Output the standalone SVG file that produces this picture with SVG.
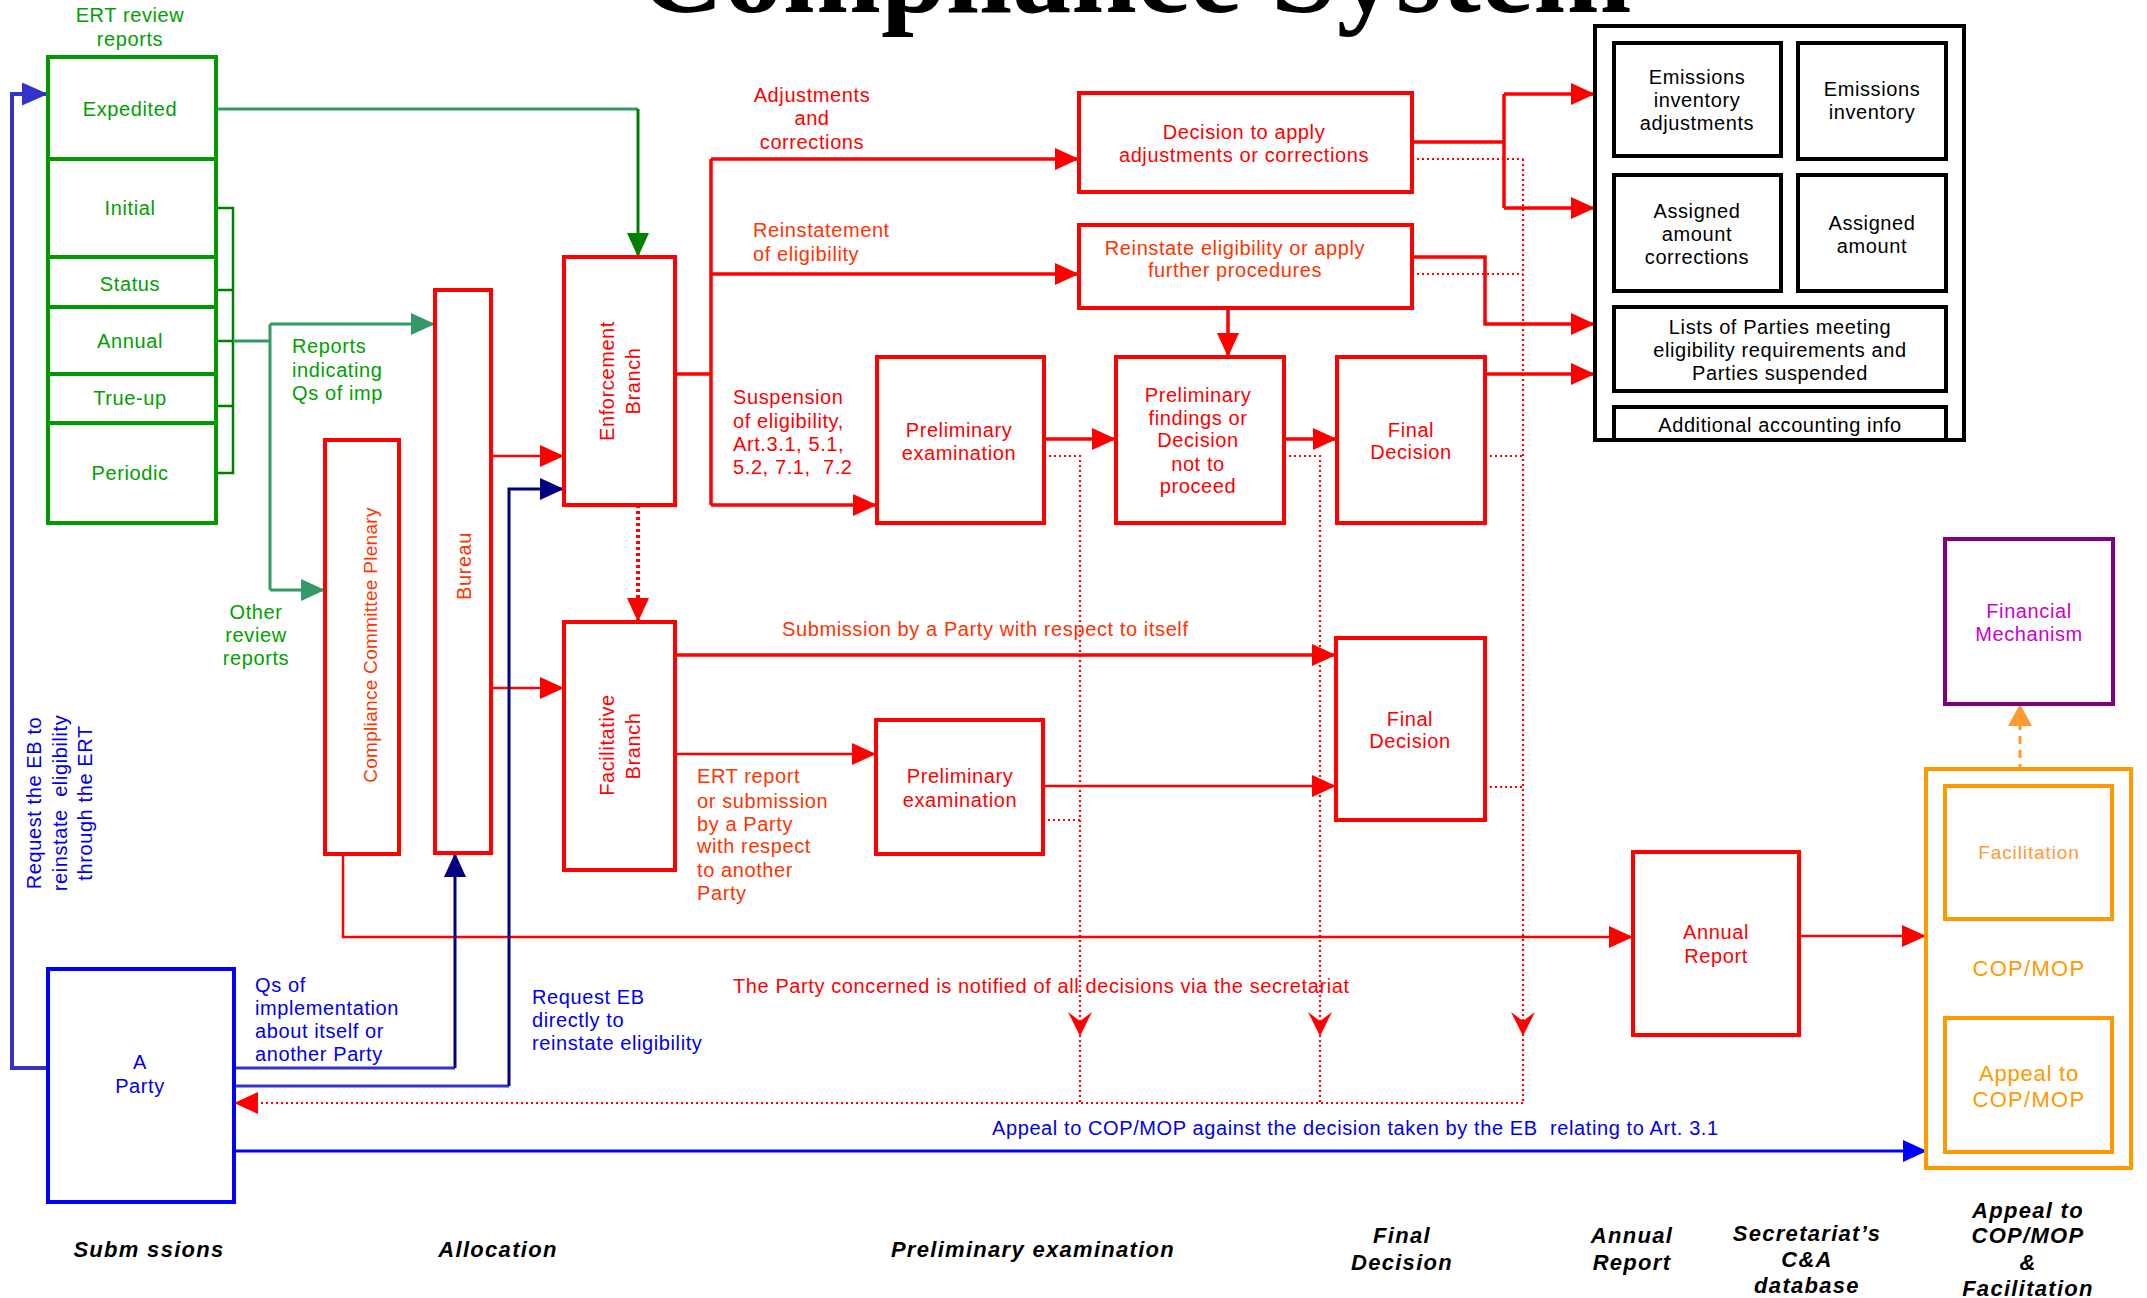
<svg xmlns="http://www.w3.org/2000/svg" width="2147" height="1298" viewBox="0 0 2147 1298">
<defs>
<style>
text{font-family:"Liberation Sans",Arial,sans-serif;font-size:20px;letter-spacing:0.6px}
.c{text-anchor:middle}
.r{fill:#ff0000}.o{fill:#ff3300}.g{fill:#00a000}.b{fill:#0000ee}.k{fill:#000}.m{fill:#cc00cc}.y{fill:#ff9900}.yl{fill:#ff9933}
.ax{font-weight:bold;font-style:italic;font-size:22px;letter-spacing:1.3px;fill:#000;text-anchor:middle}
.title{font-family:"Liberation Serif","Times New Roman",serif;font-weight:bold;font-size:118px;letter-spacing:0;text-anchor:middle;fill:#000}
.bx{fill:#fff;stroke-width:4}
.rb{stroke:#ff0000}.gb{stroke:#009900}.kb{stroke:#000}.bb{stroke:#0000ff}.pb{stroke:#800080}.yb{stroke:#ff9900}
.ln{fill:none}
.lr{stroke:#ff0000;stroke-width:3.5}
.lr2{stroke:#ff0000;stroke-width:2.5}
.dot{stroke:#ff0000;stroke-width:2.2;stroke-dasharray:2,3}
</style>
<marker id="aR" markerUnits="userSpaceOnUse" markerWidth="24" markerHeight="22" refX="24" refY="11" orient="auto" viewBox="0 0 24 22"><path d="M0,0L24,11L0,22z" fill="#ff0000"/></marker>
<marker id="aG" markerUnits="userSpaceOnUse" markerWidth="24" markerHeight="22" refX="24" refY="11" orient="auto" viewBox="0 0 24 22"><path d="M0,0L24,11L0,22z" fill="#008000"/></marker>
<marker id="aS" markerUnits="userSpaceOnUse" markerWidth="24" markerHeight="22" refX="24" refY="11" orient="auto" viewBox="0 0 24 22"><path d="M0,0L24,11L0,22z" fill="#339966"/></marker>
<marker id="aN" markerUnits="userSpaceOnUse" markerWidth="24" markerHeight="22" refX="24" refY="11" orient="auto" viewBox="0 0 24 22"><path d="M0,0L24,11L0,22z" fill="#000080"/></marker>
<marker id="aB" markerUnits="userSpaceOnUse" markerWidth="24" markerHeight="22" refX="24" refY="11" orient="auto" viewBox="0 0 24 22"><path d="M0,0L24,11L0,22z" fill="#0000ff"/></marker>
<marker id="aV" markerUnits="userSpaceOnUse" markerWidth="26" markerHeight="23" refX="26" refY="11.5" orient="auto" viewBox="0 0 26 23"><path d="M0,0L26,11.5L0,23z" fill="#3333cc"/></marker>
<marker id="aO" markerUnits="userSpaceOnUse" markerWidth="22" markerHeight="24" refX="22" refY="12" orient="auto" viewBox="0 0 22 24"><path d="M0,0L22,12L0,24z" fill="#ff9933"/></marker>
</defs>
<rect width="2147" height="1298" fill="#fff"/>
<text class="title" x="1135" y="12">Compliance System</text>

<g id="connectors" class="ln">
<path d="M216,109H638" stroke="#339966" stroke-width="3"/>
<path d="M638,109V257" stroke="#008000" stroke-width="3" marker-end="url(#aG)"/>
<path d="M216,208H233V473H216M216,290H233M216,341H233M216,406H233" stroke="#008000" stroke-width="2.5"/>
<path d="M233,341H270M270,324V590" stroke="#339966" stroke-width="3"/>
<path d="M270,324H435" stroke="#339966" stroke-width="3" marker-end="url(#aS)"/>
<path d="M270,590H325" stroke="#339966" stroke-width="3" marker-end="url(#aS)"/>

<path class="lr2" d="M491,456H564" marker-end="url(#aR)"/>
<path class="lr2" d="M491,688H564" marker-end="url(#aR)"/>
<path class="lr" d="M675,374H711M711,159V505"/>
<path class="lr" d="M711,159H1079" marker-end="url(#aR)"/>
<path class="lr" d="M711,274H1079" marker-end="url(#aR)"/>
<path class="lr" d="M711,505H877" marker-end="url(#aR)"/>
<path class="lr" d="M1228,308V357" marker-end="url(#aR)"/>
<path class="lr" d="M1044,439H1116" marker-end="url(#aR)"/>
<path class="lr" d="M1284,439H1337" marker-end="url(#aR)"/>
<path class="lr" d="M1412,142H1504M1504,94V208"/>
<path class="lr" d="M1504,94H1595" marker-end="url(#aR)"/>
<path class="lr" d="M1504,208H1595" marker-end="url(#aR)"/>
<path class="lr" d="M1412,257H1485V324H1595" marker-end="url(#aR)"/>
<path class="lr" d="M1485,374H1595" marker-end="url(#aR)"/>
<path class="lr" d="M675,655H1336" marker-end="url(#aR)"/>
<path class="lr2" d="M675,754H876" marker-end="url(#aR)"/>
<path class="lr2" d="M1043,786H1336" marker-end="url(#aR)"/>
<path class="lr2" d="M343,854V937H1633" marker-end="url(#aR)"/>
<path class="lr2" d="M1799,936H1926" marker-end="url(#aR)"/>

<path class="dot" d="M1412,159H1523M1412,274H1523M1523,159V1103M1044,456H1080V1103M1284,456H1320V1103M1485,456H1523M1043,820H1080M1485,787H1523"/>
<path class="dot" d="M1523,1103H234" marker-end="url(#aR)"/>
<path d="M638,505V622" stroke="#ff0000" stroke-width="4" stroke-dasharray="3,3" marker-end="url(#aR)"/>
<path d="M1080,1036L1068,1012L1080,1021L1092,1012Z M1320,1036L1308,1012L1320,1021L1332,1012Z M1523,1036L1511,1012L1523,1021L1535,1012Z" fill="#ff0000"/>

<path d="M48,1068H12V94H48" stroke="#3333cc" stroke-width="4" marker-end="url(#aV)"/>
<path d="M234,1068H455" stroke="#3333cc" stroke-width="3"/>
<path d="M455,1068V853" stroke="#000080" stroke-width="3" marker-end="url(#aN)"/>
<path d="M234,1086H509" stroke="#3333cc" stroke-width="3"/>
<path d="M509,1086V489H564" stroke="#000080" stroke-width="3" marker-end="url(#aN)"/>
<path d="M234,1151H1927" stroke="#0000ff" stroke-width="3" marker-end="url(#aB)"/>
<path d="M2020,786V704" stroke="#ff9933" stroke-width="3" stroke-dasharray="8,6" marker-end="url(#aO)"/>
</g>

<g id="ert-reports">
<text class="g c" x="130" y="22">ERT review</text>
<text class="g c" x="130" y="46">reports</text>
</g>
<g id="expedited"><rect class="bx gb" x="48" y="57" width="168" height="102" stroke-width="5"/><text class="g c" x="130" y="116">Expedited</text></g>
<g id="initial"><rect class="bx gb" x="48" y="159" width="168" height="98"/><text class="g c" x="130" y="215">Initial</text></g>
<g id="status"><rect class="bx gb" x="48" y="257" width="168" height="50"/><text class="g c" x="130" y="291">Status</text></g>
<g id="annual"><rect class="bx gb" x="48" y="307" width="168" height="67"/><text class="g c" x="130" y="348">Annual</text></g>
<g id="trueup"><rect class="bx gb" x="48" y="374" width="168" height="49"/><text class="g c" x="130" y="405">True-up</text></g>
<g id="periodic"><rect class="bx gb" x="48" y="423" width="168" height="100"/><text class="g c" x="130" y="480">Periodic</text></g>

<g id="labels-green">
<text class="g" x="292" y="353">Reports</text>
<text class="g" x="292" y="377">indicating</text>
<text class="g" x="292" y="400">Qs of imp</text>
<text class="g c" x="256" y="619">Other</text>
<text class="g c" x="256" y="642">review</text>
<text class="g c" x="256" y="665">reports</text>
</g>

<g id="ccp"><rect class="bx rb" x="325" y="440" width="74" height="414"/><text class="o c" transform="translate(377,645) rotate(-90)" style="font-size:19px;letter-spacing:0.3px">Compliance Committee Plenary</text></g>
<g id="bureau"><rect class="bx rb" x="435" y="290" width="56" height="563"/><text class="o c" transform="translate(471,566) rotate(-90)">Bureau</text></g>
<g id="enforcement"><rect class="bx rb" x="564" y="257" width="111" height="248"/>
<text class="r c" transform="translate(614,381) rotate(-90)">Enforcement</text>
<text class="r c" transform="translate(640,381) rotate(-90)">Branch</text></g>
<g id="facilitative"><rect class="bx rb" x="564" y="622" width="111" height="248"/>
<text class="r c" transform="translate(614,745) rotate(-90)">Facilitative</text>
<text class="r c" transform="translate(640,746) rotate(-90)">Branch</text></g>

<g id="labels-red">
<text class="r c" x="812" y="102">Adjustments</text>
<text class="r c" x="812" y="125">and</text>
<text class="r c" x="812" y="149">corrections</text>
<text class="o" x="753" y="237">Reinstatement</text>
<text class="o" x="753" y="261">of eligibility</text>
<text class="r" x="733" y="404">Suspension</text>
<text class="r" x="733" y="428">of eligibility,</text>
<text class="r" x="733" y="451">Art.3.1, 5.1,</text>
<text class="r" x="733" y="474" xml:space="preserve">5.2, 7.1,  7.2</text>
<text class="o" x="782" y="636">Submission by a Party with respect to itself</text>
<text class="o" x="697" y="783">ERT report</text>
<text class="o" x="697" y="808">or submission</text>
<text class="o" x="697" y="831">by a Party</text>
<text class="o" x="697" y="853">with respect</text>
<text class="o" x="697" y="877">to another</text>
<text class="o" x="697" y="900">Party</text>
<text class="r" x="733" y="993">The Party concerned is notified of all decisions via the secretariat</text>
</g>

<g id="decision-apply"><rect class="bx rb" x="1079" y="93" width="333" height="99"/>
<text class="r c" x="1244" y="139">Decision to apply</text>
<text class="r c" x="1244" y="162">adjustments or corrections</text></g>
<g id="reinstate"><rect class="bx rb" x="1079" y="225" width="333" height="83"/>
<text class="o c" x="1235" y="255">Reinstate eligibility or apply</text>
<text class="o c" x="1235" y="277">further procedures</text></g>
<g id="prelim-eb"><rect class="bx rb" x="877" y="357" width="167" height="166"/>
<text class="r c" x="959" y="437">Preliminary</text>
<text class="r c" x="959" y="460">examination</text></g>
<g id="findings"><rect class="bx rb" x="1116" y="357" width="168" height="166"/>
<text class="r c" x="1198" y="402">Preliminary</text>
<text class="r c" x="1198" y="425">findings or</text>
<text class="r c" x="1198" y="447">Decision</text>
<text class="r c" x="1198" y="471">not to</text>
<text class="r c" x="1198" y="493">proceed</text></g>
<g id="final-eb"><rect class="bx rb" x="1337" y="357" width="148" height="166"/>
<text class="r c" x="1411" y="437">Final</text>
<text class="r c" x="1411" y="459">Decision</text></g>
<g id="prelim-fb"><rect class="bx rb" x="876" y="720" width="167" height="134"/>
<text class="r c" x="960" y="783">Preliminary</text>
<text class="r c" x="960" y="807">examination</text></g>
<g id="final-fb"><rect class="bx rb" x="1336" y="638" width="149" height="182"/>
<text class="r c" x="1410" y="726">Final</text>
<text class="r c" x="1410" y="748">Decision</text></g>
<g id="annual-report"><rect class="bx rb" x="1633" y="852" width="166" height="183"/>
<text class="r c" x="1716" y="939">Annual</text>
<text class="r c" x="1716" y="963">Report</text></g>

<g id="database">
<rect x="1595" y="26" width="369" height="414" fill="#fff" stroke="#000" stroke-width="4"/>
<rect class="bx kb" x="1614" y="43" width="167" height="113"/>
<text class="k c" x="1697" y="84">Emissions</text>
<text class="k c" x="1697" y="107">inventory</text>
<text class="k c" x="1697" y="130">adjustments</text>
<rect class="bx kb" x="1798" y="43" width="148" height="116"/>
<text class="k c" x="1872" y="96">Emissions</text>
<text class="k c" x="1872" y="119">inventory</text>
<rect class="bx kb" x="1614" y="175" width="167" height="116"/>
<text class="k c" x="1697" y="218">Assigned</text>
<text class="k c" x="1697" y="241">amount</text>
<text class="k c" x="1697" y="264">corrections</text>
<rect class="bx kb" x="1798" y="175" width="148" height="116"/>
<text class="k c" x="1872" y="230">Assigned</text>
<text class="k c" x="1872" y="253">amount</text>
<rect class="bx kb" x="1614" y="307" width="332" height="84"/>
<text class="k c" x="1780" y="334">Lists of Parties meeting</text>
<text class="k c" x="1780" y="357">eligibility requirements and</text>
<text class="k c" x="1780" y="380">Parties suspended</text>
<rect class="bx kb" x="1614" y="407" width="332" height="33"/>
<text class="k c" x="1780" y="432">Additional accounting info</text>
</g>

<g id="financial-mechanism"><rect class="bx pb" x="1945" y="539" width="168" height="165"/>
<text class="m c" x="2029" y="618">Financial</text>
<text class="m c" x="2029" y="641">Mechanism</text></g>
<g id="copmop"><rect class="bx yb" x="1926" y="769" width="205" height="399"/>
<text class="y c" x="2029" y="976" style="font-size:22px;letter-spacing:1.3px">COP/MOP</text></g>
<g id="facilitation"><rect class="bx yb" x="1945" y="786" width="167" height="133"/>
<text class="yl c" x="2029" y="859" style="font-size:19px;letter-spacing:0.9px">Facilitation</text></g>
<g id="appeal"><rect class="bx yb" x="1945" y="1018" width="167" height="134"/>
<text class="y c" x="2029" y="1081" style="font-size:22px;letter-spacing:0.8px">Appeal to</text>
<text class="y c" x="2029" y="1107" style="font-size:22px;letter-spacing:1.3px">COP/MOP</text></g>

<g id="party"><rect class="bx bb" x="48" y="969" width="186" height="233"/>
<text class="b c" x="140" y="1069">A</text>
<text class="b c" x="140" y="1093">Party</text></g>

<g id="labels-blue">
<text class="b c" transform="translate(41,803) rotate(-90)">Request the EB to</text>
<text class="b c" transform="translate(67,803) rotate(-90)" xml:space="preserve">reinstate  eligibility</text>
<text class="b c" transform="translate(92,803) rotate(-90)">through the ERT</text>
<text class="b" x="255" y="992">Qs of</text>
<text class="b" x="255" y="1015">implementation</text>
<text class="b" x="255" y="1038">about itself or</text>
<text class="b" x="255" y="1061">another Party</text>
<text class="b" x="532" y="1004">Request EB</text>
<text class="b" x="532" y="1027">directly to</text>
<text class="b" x="532" y="1050">reinstate eligibility</text>
<text class="b" x="992" y="1135" xml:space="preserve">Appeal to COP/MOP against the decision taken by the EB  relating to Art. 3.1</text>
</g>

<g id="stage-labels">
<text class="ax" x="149" y="1257">Subm ssions</text>
<text class="ax" x="498" y="1257">Allocation</text>
<text class="ax" x="1033" y="1257">Preliminary examination</text>
<text class="ax" x="1402" y="1243">Final</text>
<text class="ax" x="1402" y="1270">Decision</text>
<text class="ax" x="1632" y="1243">Annual</text>
<text class="ax" x="1632" y="1270">Report</text>
<text class="ax" x="1807" y="1241">Secretariat’s</text>
<text class="ax" x="1807" y="1267">C&amp;A</text>
<text class="ax" x="1807" y="1293">database</text>
<text class="ax" x="2028" y="1218">Appeal to</text>
<text class="ax" x="2028" y="1243">COP/MOP</text>
<text class="ax" x="2028" y="1270">&amp;</text>
<text class="ax" x="2028" y="1296">Facilitation</text>
</g>
</svg>
